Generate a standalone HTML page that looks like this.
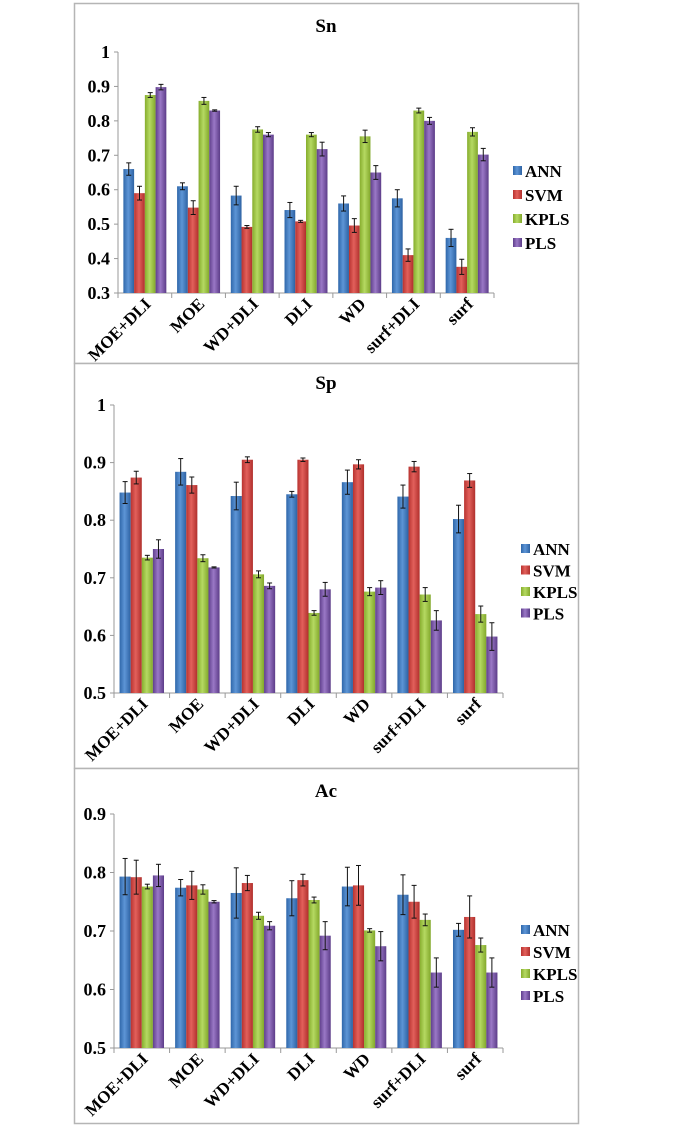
<!DOCTYPE html>
<html><head><meta charset="utf-8">
<style>
html,body{margin:0;padding:0;background:#fff;}
svg{display:block;font-family:"Liberation Serif",serif;}
</style></head>
<body>
<svg id="svg" width="685" height="1127" viewBox="0 0 685 1127" xmlns="http://www.w3.org/2000/svg">
<defs>
<linearGradient id="g0" x1="0" x2="1"><stop offset="0" stop-color="#2f67aa"/><stop offset="0.45" stop-color="#5d95d6"/><stop offset="1" stop-color="#2d62a3"/></linearGradient>
<linearGradient id="g1" x1="0" x2="1"><stop offset="0" stop-color="#b83330"/><stop offset="0.45" stop-color="#e2605b"/><stop offset="1" stop-color="#b02f2c"/></linearGradient>
<linearGradient id="g2" x1="0" x2="1"><stop offset="0" stop-color="#86ad2d"/><stop offset="0.45" stop-color="#b5d962"/><stop offset="1" stop-color="#82a82b"/></linearGradient>
<linearGradient id="g3" x1="0" x2="1"><stop offset="0" stop-color="#5f3f8c"/><stop offset="0.45" stop-color="#9a78c6"/><stop offset="1" stop-color="#5c3c88"/></linearGradient>
</defs>
</svg>
<script>
const categories = ["MOE+DLI","MOE","WD+DLI","DLI","WD","surf+DLI","surf"];
const seriesNames = ["ANN","SVM","KPLS","PLS"];
const snANN = [0.66,0.61,0.583,0.541,0.56,0.575,0.46];
const snSVM = [0.59,0.548,0.492,0.508,0.496,0.41,0.376];
const snKPLS = [0.875,0.858,0.775,0.76,0.755,0.83,0.768];
const snPLS = [0.898,0.83,0.76,0.718,0.65,0.8,0.702];
const snErrANN = [0.018,0.01,0.027,0.022,0.022,0.025,0.025];
const snErrSVM = [0.02,0.02,0.004,0.003,0.02,0.018,0.022];
const snErrKPLS = [0.007,0.01,0.008,0.006,0.018,0.007,0.012];
const snErrPLS = [0.008,0.002,0.006,0.02,0.02,0.01,0.018];
const spANN = [0.848,0.884,0.842,0.845,0.866,0.841,0.802];
const spSVM = [0.874,0.861,0.905,0.905,0.897,0.893,0.869];
const spKPLS = [0.735,0.734,0.706,0.639,0.676,0.671,0.637];
const spPLS = [0.75,0.718,0.686,0.68,0.683,0.626,0.598];
const spErrANN = [0.019,0.023,0.024,0.005,0.021,0.02,0.024];
const spErrSVM = [0.011,0.014,0.005,0.003,0.008,0.009,0.012];
const spErrKPLS = [0.004,0.006,0.006,0.004,0.007,0.012,0.014];
const spErrPLS = [0.016,0.001,0.005,0.012,0.012,0.017,0.024];
const acANN = [0.793,0.774,0.765,0.756,0.776,0.762,0.702];
const acSVM = [0.792,0.778,0.782,0.787,0.778,0.75,0.724];
const acKPLS = [0.776,0.771,0.726,0.753,0.701,0.719,0.676];
const acPLS = [0.795,0.75,0.709,0.692,0.674,0.629,0.629];
const acErrANN = [0.031,0.014,0.043,0.03,0.033,0.034,0.011];
const acErrSVM = [0.029,0.024,0.013,0.01,0.034,0.028,0.036];
const acErrKPLS = [0.004,0.008,0.006,0.005,0.003,0.01,0.012];
const acErrPLS = [0.019,0.002,0.007,0.024,0.025,0.025,0.025];
const snTicks = ["0.3","0.4","0.5","0.6","0.7","0.8","0.9","1"];
const spTicks = ["0.5","0.6","0.7","0.8","0.9","1"];
const acTicks = ["0.5","0.6","0.7","0.8","0.9"];

const NS="http://www.w3.org/2000/svg";
const svg=document.getElementById('svg');
function mk(tag,attrs,parent){const e=document.createElementNS(NS,tag);for(const k in attrs)e.setAttribute(k,attrs[k]);(parent||svg).appendChild(e);return e;}

function panel(cfg){
  const g=mk('g',{});
  
  
  const box=mk('rect',{x:74.5,y:cfg.top+0.5,width:504,height:cfg.bottom-cfg.top,fill:'#fff',stroke:'#b5b5b5','stroke-width':1.5},g);
  
  
  const t=mk('text',{x:326,y:cfg.titleY,'text-anchor':'middle','font-size':19,'font-weight':'bold'},g);
  t.textContent=cfg.title;
  
  
  const ticks=cfg.ticks.map(Number);
  const vmin=ticks[0], vmax=ticks[ticks.length-1];
  const y=v=>cfg.y0+(cfg.y1-cfg.y0)*(v-vmin)/(vmax-vmin);
  const x0=cfg.x0,x1=cfg.x1,gw=(x1-x0)/categories.length;
  mk('line',{x1:x0,y1:y(vmin),x2:x0,y2:y(vmax),stroke:'#999','stroke-width':1},g);
  mk('line',{x1:x0,y1:y(vmin),x2:x1,y2:y(vmin),stroke:'#999','stroke-width':1},g);
  cfg.ticks.forEach((lab,i)=>{
    const yy=y(ticks[i]);
    mk('line',{x1:x0-4,y1:yy,x2:x0,y2:yy,stroke:'#999'},g);
    const tt=mk('text',{x:x0-8,y:yy+6,'text-anchor':'end','font-size':18,'font-weight':'bold'},g);
    tt.textContent=lab;
    
    
  });
  for(let i=0;i<=categories.length;i++){const xx=x0+i*gw;mk('line',{x1:xx,y1:y(vmin),x2:xx,y2:y(vmin)+5,stroke:'#999'},g);}
  const bw=gw*0.2;
  categories.forEach((c,ci)=>{
    const gx=x0+ci*gw+gw*0.1;
    cfg.series.forEach((s,si)=>{
      const v=s[ci], e=cfg.errs[si][ci];
      const bx=gx+si*bw;
      const r=mk('rect',{x:bx,y:y(v),width:bw,height:y(vmin)-y(v),fill:'url(#g'+si+')'},g);
      
      
      const cx=bx+bw/2;
      mk('line',{x1:cx,y1:y(v+e),x2:cx,y2:y(v-e),stroke:'#111','stroke-width':1},g);
      mk('line',{x1:cx-2.5,y1:y(v+e),x2:cx+2.5,y2:y(v+e),stroke:'#111','stroke-width':1},g);
      mk('line',{x1:cx-2.5,y1:y(v-e),x2:cx+2.5,y2:y(v-e),stroke:'#111','stroke-width':1},g);
    });
    const lx=x0+ci*gw+gw/2+7, ly=y(vmin)+12;
    const cl=mk('text',{x:lx,y:ly,'text-anchor':'end','font-size':17,'font-weight':'bold',transform:'rotate(-45 '+lx+' '+ly+')'},g);
    cl.textContent=c;
    
    
  });
  seriesNames.forEach((n,si)=>{
    const ly=cfg.legY+si*cfg.legSp;
    const lg=mk('g',{},g);
    
    
    mk('rect',{x:cfg.legX,y:ly-5,width:9,height:9,fill:'url(#g'+si+')'},lg);
    const lt=mk('text',{x:cfg.legX+12,y:ly+6,'font-size':17,'font-weight':'bold'},lg);
    lt.textContent=n;
  });
}
panel({id:'sn',title:'Sn',top:3,bottom:363,titleY:32,ticks:snTicks,y0:293,y1:52,x0:118,x1:494,
  series:[snANN,snSVM,snKPLS,snPLS],errs:[snErrANN,snErrSVM,snErrKPLS,snErrPLS],legX:513,legY:171,legSp:24});
panel({id:'sp',title:'Sp',top:363,bottom:768,titleY:389,ticks:spTicks,y0:693,y1:405,x0:114,x1:503,
  series:[spANN,spSVM,spKPLS,spPLS],errs:[spErrANN,spErrSVM,spErrKPLS,spErrPLS],legX:521,legY:549,legSp:21.5});
panel({id:'ac',title:'Ac',top:768,bottom:1123,titleY:797,ticks:acTicks,y0:1048,y1:814,x0:114,x1:503,
  series:[acANN,acSVM,acKPLS,acPLS],errs:[acErrANN,acErrSVM,acErrKPLS,acErrPLS],legX:521,legY:930,legSp:22});
</script>
</body></html>
